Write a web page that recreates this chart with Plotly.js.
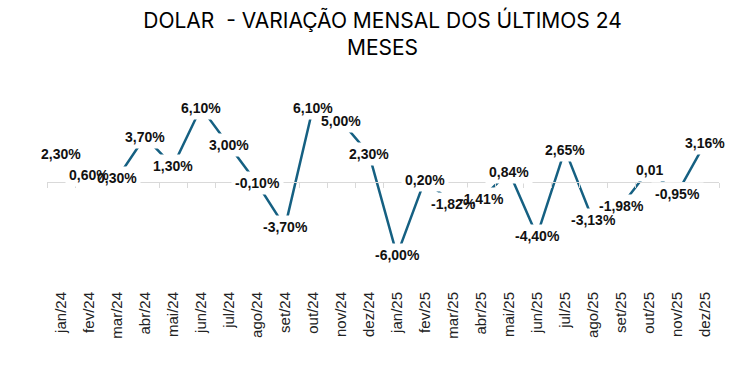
<!DOCTYPE html>
<html>
<head>
<meta charset="utf-8">
<script src="https://cdn.plot.ly/plotly-3.0.1.min.js"></script>
<style>
  html, body { margin: 0; padding: 0; background: #fff; }
  #chart { width: 737px; height: 368px; }
</style>
</head>
<body>
<div id="chart"></div>
<script>
const months = ["jan/24","fev/24","mar/24","abr/24","mai/24","jun/24","jul/24","ago/24","set/24","out/24","nov/24","dez/24",
                "jan/25","fev/25","mar/25","abr/25","mai/25","jun/25","jul/25","ago/25","set/25","out/25","nov/25","dez/25"];
const variacao = [2.30, 0.60, 0.30, 3.70, 1.30, 6.10, 3.00, -0.10, -3.70, 6.10, 5.00, 2.30,
                  -6.00, 0.20, -1.82, -1.41, 0.84, -4.40, 2.65, -3.13, -1.98, 1.00, -0.95, 3.16];
const rotulos = ["2,30%","0,60%","0,30%","3,70%","1,30%","6,10%","3,00%","-0,10%","-3,70%","6,10%","5,00%","2,30%",
                 "-6,00%","0,20%","-1,82%","-1,41%","0,84%","-4,40%","2,65%","-3,13%","-1,98%","0,01","-0,95%","3,16%"];

const yMin = -8.69, yMax = 9.18;
const zeroPos = (0 - yMin) / (yMax - yMin);

const lineTrace = {
  type: 'scatter', mode: 'lines',
  x: months, y: variacao,
  line: { color: '#156082', width: 2.5 },
  hoverinfo: 'skip', showlegend: false
};
const tickTrace = {
  type: 'scatter', mode: 'lines',
  x: months, y: variacao, xaxis: 'x2',
  opacity: 0, hoverinfo: 'skip', showlegend: false
};

const labelFont = { family: 'Liberation Sans, Arial, sans-serif', size: 14 };
// white boxes first (hide the line behind labels), then the texts on top
const boxes = months.map((m, i) => ({
  x: m, y: variacao[i], xref: 'x', yref: 'y',
  text: '<b>' + rotulos[i] + '</b>', showarrow: false,
  bgcolor: '#ffffff', borderpad: 3,
  font: Object.assign({}, labelFont, { color: '#ffffff' })
}));
const texts = months.map((m, i) => ({
  x: m, y: variacao[i], xref: 'x', yref: 'y',
  text: '<b>' + rotulos[i] + '</b>', showarrow: false,
  bgcolor: 'rgba(0,0,0,0)', borderpad: 3,
  font: Object.assign({}, labelFont, { color: '#111111' })
}));

const layout = {
  width: 737, height: 368,
  margin: { l: 47, r: 18, t: 70, b: 80 },
  paper_bgcolor: '#ffffff', plot_bgcolor: '#ffffff',
  title: {
    text: 'DOLAR  - VARIAÇÃO MENSAL DOS ÚLTIMOS 24<br>MESES',
    x: 0.519, xanchor: 'center', y: 0.925, yanchor: 'middle',
    font: { family: 'Inter, sans-serif', size: 21, color: '#000000' }
  },
  xaxis: {
    type: 'category', range: [-0.5, 23.5],
    tickangle: -90, ticks: '', showline: false, showgrid: false, zeroline: false,
    tickfont: { family: 'Liberation Sans, Arial, sans-serif', size: 15, color: '#222222' }
  },
  xaxis2: {
    type: 'category', overlaying: 'x', matches: 'x', anchor: 'free', position: zeroPos,
    side: 'bottom', showline: true, linecolor: '#d9d9d9', linewidth: 1,
    ticks: 'outside', tickson: 'boundaries', ticklen: 5, tickcolor: '#d9d9d9', tickwidth: 1,
    showticklabels: false, showgrid: false, zeroline: false
  },
  yaxis: {
    range: [yMin, yMax], visible: false, showgrid: false, zeroline: false
  },
  annotations: boxes.concat(texts),
  showlegend: false
};

Plotly.newPlot('chart', [lineTrace, tickTrace], layout, { displayModeBar: false, staticPlot: true });
</script>
</body>
</html>
